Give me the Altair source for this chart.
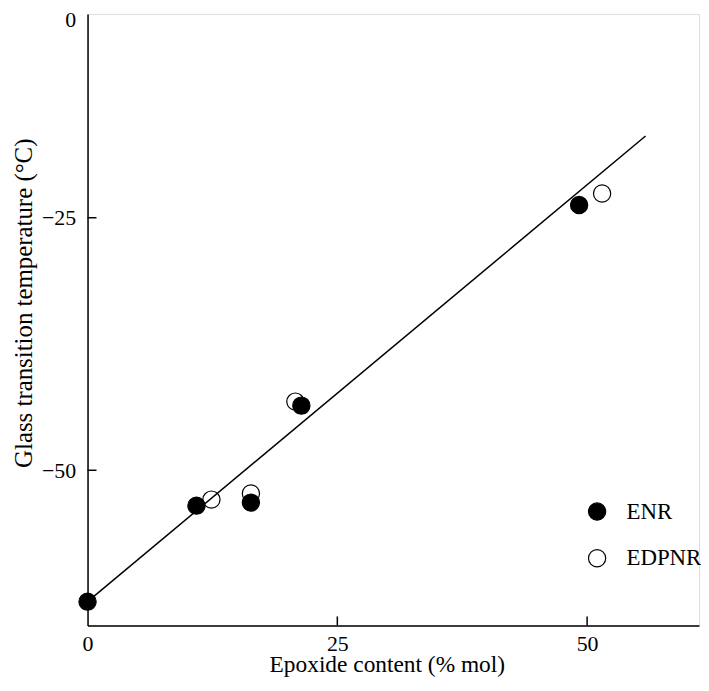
import altair as alt
import pandas as pd

# ---- data ----
enr_x = [0.0, 10.9, 16.35, 21.4, 49.2]
enr_y = [-63.0, -53.5, -53.2, -43.6, -23.4]
edpnr_x = [12.4, 16.35, 20.8, 51.5]
edpnr_y = [-52.9, -52.3, -43.2, -21.95]
fit_x = [0.0, 55.85]
fit_y = [-63.0, -14.7]
x_tick_values = [25, 50]
y_tick_values = [-25, -50]
x_label_values = [0, 25, 50]
y_label_values = [0, -25, -50]
series = ["ENR", "EDPNR"]

# axis extents (as drawn in the figure; y axis is not uniform in the original)
x_domain = [0, 61.2]
y_domain = [-65.35, -50, -25, 0, 0.7]

W, H = 615, 615
FONT = "Liberation Serif"

pts = pd.DataFrame({
    "x": edpnr_x + enr_x,
    "y": edpnr_y + enr_y,
    "s": ["EDPNR"] * len(edpnr_x) + ["ENR"] * len(enr_x),
})
fit = pd.DataFrame({"x": fit_x, "y": fit_y})
xt = pd.DataFrame({"x": x_tick_values})
yt = pd.DataFrame({"y": y_tick_values})

xscale = alt.Scale(domain=x_domain, range=[0, W], nice=False, zero=False)
yscale = alt.Scale(domain=y_domain, range=[H, 459, 205, 5.5, 0], nice=False, zero=False)

xaxis = alt.Axis(values=x_label_values, ticks=False, tickSize=0, grid=False, labelFlush=False,
                 domainColor="black", domainWidth=1.5, labelFont=FONT, labelFontSize=22,
                 labelColor="black", labelPadding=8, title="Epoxide content (% mol)",
                 titleFont=FONT, titleFontSize=23.5, titleFontWeight="normal", titleColor="black",
                 titleX=301, titleY=46, titleBaseline="alphabetic")
yaxis = alt.Axis(values=y_label_values, ticks=False, tickSize=0, grid=False, labelFlush=False,
                 domainColor="black", domainWidth=1.5, labelFont=FONT, labelFontSize=22,
                 labelColor="black", labelPadding=12, title="Glass transition temperature (°C)",
                 titleFont=FONT, titleFontSize=25, titleFontWeight="normal", titleColor="black",
                 titleX=-56, titleY=290.5, titleBaseline="alphabetic", titleAngle=-90)

line = alt.Chart(fit).mark_line(color="black", strokeWidth=1.5).encode(
    x=alt.X("x:Q", scale=xscale, axis=xaxis),
    y=alt.Y("y:Q", scale=yscale, axis=yaxis),
)

points = alt.Chart(pts).mark_point(shape="circle", size=300, stroke="black",
                                   strokeWidth=1.2, opacity=1, fillOpacity=1).encode(
    x=alt.X("x:Q", scale=xscale),
    y=alt.Y("y:Q", scale=yscale),
    fill=alt.Fill("s:N", scale=alt.Scale(domain=series, range=["black", "transparent"]),
                  legend=alt.Legend(title=None, orient="none", legendX=501, legendY=489,
                                    symbolType="circle", symbolSize=300,
                                    symbolStrokeColor="black", symbolStrokeWidth=1.2,
                                    labelFont=FONT, labelFontSize=23, labelColor="black",
                                    labelOffset=18, rowPadding=23)),
    order=alt.Order("s:N", sort="ascending"),
)

xticks = alt.Chart(xt).mark_rule(color="black", strokeWidth=1.5).encode(
    x=alt.X("x:Q", scale=xscale), y=alt.value(H), y2=alt.value(H - 9))
yticks = alt.Chart(yt).mark_rule(color="black", strokeWidth=1.5).encode(
    y=alt.Y("y:Q", scale=yscale), x=alt.value(0), x2=alt.value(9))

chart = alt.layer(line, xticks, yticks, points).properties(
    width=W, height=H,
    autosize=alt.AutoSizeParams(type="none"),
    padding={"left": 80, "top": 4, "right": 2, "bottom": 56},
).configure_view(strokeWidth=0).configure(background="white")

chart.save("out.html", embed_options={"renderer": "svg", "actions": False})
